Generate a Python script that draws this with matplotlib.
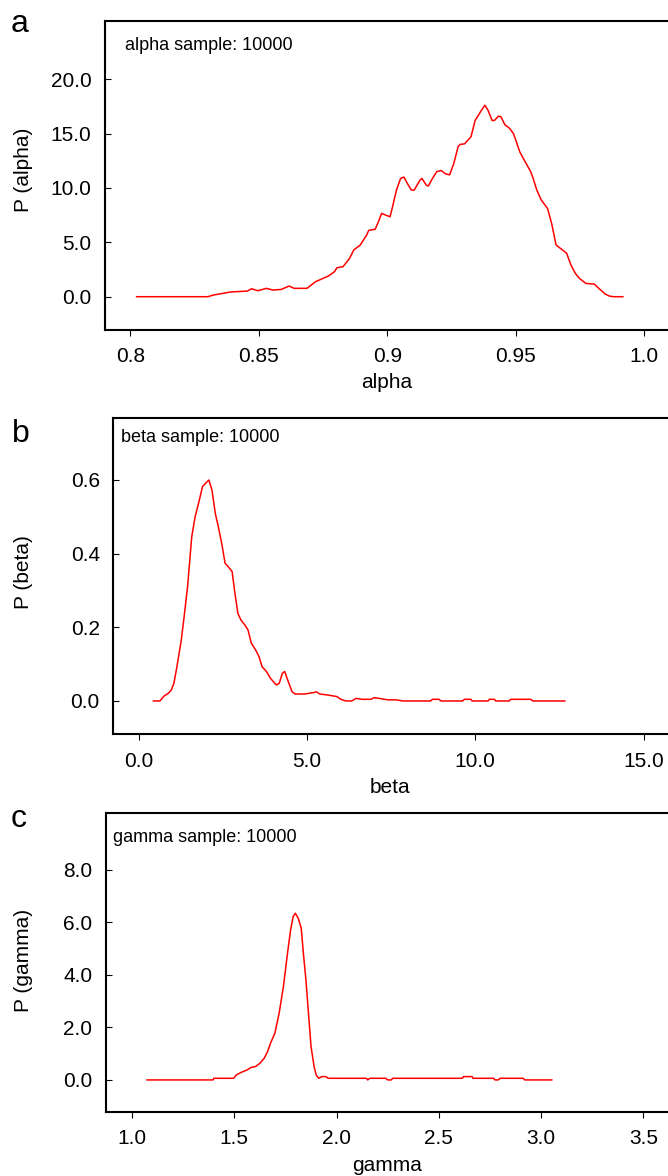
import matplotlib
matplotlib.use("Agg")
import matplotlib.pyplot as plt

plt.rcParams['font.family'] = ['Liberation Sans', 'DejaVu Sans']

# ---------------- data ----------------
alpha_x = [0.8025, 0.8302, 0.8323, 0.8389, 0.8456, 0.8472, 0.8497, 0.8530, 0.8555, 0.8588,
           0.8618, 0.8638, 0.8688, 0.8721, 0.8771, 0.8795, 0.8804, 0.8828, 0.8853, 0.8870,
           0.8895, 0.8920, 0.8928, 0.8953, 0.8966, 0.8978, 0.8994, 0.9011, 0.9019, 0.9036,
           0.9052, 0.9065, 0.9082, 0.9094, 0.9105, 0.9127, 0.9135, 0.9152, 0.9160, 0.9176,
           0.9193, 0.9210, 0.9226, 0.9243, 0.9259, 0.9276, 0.9284, 0.9301, 0.9326, 0.9342,
           0.9367, 0.9380, 0.9392, 0.9408, 0.9417, 0.9433, 0.9442, 0.9458, 0.9475, 0.9491,
           0.9500, 0.9516, 0.9533, 0.9558, 0.9566, 0.9582, 0.9599, 0.9624, 0.9640, 0.9657,
           0.9674, 0.9698, 0.9715, 0.9732, 0.9748, 0.9773, 0.9806, 0.9823, 0.9848, 0.9864,
           0.9881, 0.9917]
alpha_p = [0.0, 0.0, 0.15, 0.43, 0.52, 0.73, 0.55, 0.77, 0.61, 0.67,
           0.98, 0.77, 0.77, 1.38, 1.90, 2.30, 2.66, 2.76, 3.50, 4.30,
           4.75, 5.67, 6.10, 6.20, 6.90, 7.66, 7.50, 7.35, 8.10, 9.80,
           10.87, 11.00, 10.26, 9.80, 9.80, 10.70, 10.87, 10.26, 10.17, 10.87,
           11.50, 11.60, 11.30, 11.20, 12.25, 13.80, 14.00, 14.05, 14.70, 16.20,
           17.15, 17.60, 17.15, 16.20, 16.20, 16.60, 16.55, 15.80, 15.50, 15.00,
           14.40, 13.30, 12.56, 11.50, 11.00, 9.80, 8.90, 8.10, 6.70, 4.75,
           4.44, 4.00, 2.90, 2.14, 1.68, 1.22, 1.16, 0.77, 0.25, 0.06,
           0.0, 0.0]

beta_x = [0.443, 0.633, 0.76, 0.886, 0.975, 1.05, 1.14, 1.27, 1.354, 1.456,
          1.58, 1.68, 1.77, 1.90, 1.99, 2.09, 2.18, 2.28, 2.37, 2.47,
          2.57, 2.66, 2.78, 2.85, 2.95, 3.04, 3.16, 3.25, 3.35, 3.48,
          3.58, 3.67, 3.80, 3.92, 4.09, 4.18, 4.27, 4.34, 4.43, 4.56,
          4.65, 4.94, 5.19, 5.28, 5.38, 5.63, 5.89, 6.01, 6.16, 6.33,
          6.46, 6.65, 6.90, 7.00, 7.15, 7.41, 7.66, 7.85, 8.67, 8.73,
          8.92, 8.99, 9.62, 9.68, 9.87, 9.91, 10.38, 10.42, 10.57, 10.61,
          11.01, 11.05, 11.65, 11.71, 12.66]
beta_p = [0.0, 0.0, 0.0136, 0.021, 0.030, 0.048, 0.093, 0.166, 0.229, 0.310,
          0.446, 0.500, 0.532, 0.582, 0.591, 0.600, 0.573, 0.509, 0.473, 0.428,
          0.374, 0.365, 0.351, 0.301, 0.238, 0.220, 0.206, 0.193, 0.157, 0.138,
          0.120, 0.093, 0.080, 0.0615, 0.0434, 0.048, 0.075, 0.080, 0.057, 0.025,
          0.019, 0.019, 0.0226, 0.025, 0.019, 0.016, 0.012, 0.0045, 0.0, 0.0,
          0.007, 0.0045, 0.0045, 0.009, 0.007, 0.003, 0.003, 0.0, 0.0, 0.0045,
          0.0045, 0.0, 0.0, 0.0045, 0.0045, 0.0, 0.0, 0.0045, 0.0045, 0.0,
          0.0, 0.0045, 0.0045, 0.0, 0.0]

gamma_x = [1.073, 1.396, 1.40, 1.496, 1.51, 1.531, 1.5625, 1.583, 1.604, 1.625,
           1.646, 1.6625, 1.677, 1.698, 1.719, 1.74, 1.76, 1.775, 1.7875, 1.798,
           1.8125, 1.827, 1.8375, 1.85, 1.865, 1.875, 1.89, 1.90, 1.9125, 1.927,
           1.948, 1.958, 2.146, 2.152, 2.1625, 2.24, 2.25, 2.267, 2.275, 2.615,
           2.62, 2.6625, 2.667, 2.767, 2.775, 2.79, 2.80, 2.9125, 2.92, 3.052]
gamma_p = [0.0, 0.0, 0.063, 0.063, 0.19, 0.28, 0.38, 0.48, 0.51, 0.635,
           0.825, 1.08, 1.40, 1.78, 2.54, 3.56, 4.83, 5.71, 6.22, 6.35,
           6.16, 5.78, 4.83, 3.81, 2.29, 1.27, 0.51, 0.19, 0.063, 0.127,
           0.127, 0.063, 0.063, 0.0, 0.063, 0.063, 0.0, 0.0, 0.063, 0.063,
           0.127, 0.127, 0.063, 0.063, 0.0, 0.0, 0.063, 0.063, 0.0, 0.0]

alpha_xticks = [0.8, 0.85, 0.9, 0.95, 1.0]
alpha_xticklabels = ["0.8", "0.85", "0.9", "0.95", "1.0"]
alpha_yticks = [0.0, 5.0, 10.0, 15.0, 20.0]
alpha_yticklabels = ["0.0", "5.0", "10.0", "15.0", "20.0"]

beta_xticks = [0.0, 5.0, 10.0, 15.0]
beta_xticklabels = ["0.0", "5.0", "10.0", "15.0"]
beta_yticks = [0.0, 0.2, 0.4, 0.6]
beta_yticklabels = ["0.0", "0.2", "0.4", "0.6"]

gamma_xticks = [1.0, 1.5, 2.0, 2.5, 3.0, 3.5]
gamma_xticklabels = ["1.0", "1.5", "2.0", "2.5", "3.0", "3.5"]
gamma_yticks = [0.0, 2.0, 4.0, 6.0, 8.0]
gamma_yticklabels = ["0.0", "2.0", "4.0", "6.0", "8.0"]

# ---------------- figure ----------------
W, H = 668, 1176
fig = plt.figure(figsize=(W / 100, H / 100), dpi=100)


def fx(x):
    return x / W


def fy(y):
    return 1 - y / H


def make_axes(left, top, bottom, right=690):
    return fig.add_axes([left / W, 1 - bottom / H, (right - left) / W, (bottom - top) / H])


TICK_FS = 15
LABEL_FS = 15
INSET_FS = 13
LETTER_FS = 23


def style(ax, xlim, ylim, xt, xtl, yt, ytl):
    ax.set_xlim(*xlim)
    ax.set_ylim(*ylim)
    ax.set_xticks(xt)
    ax.set_xticklabels(xtl)
    ax.set_yticks(yt)
    ax.set_yticklabels(ytl)
    for s in ax.spines.values():
        s.set_linewidth(1.5)
        s.set_color('black')
    ax.tick_params(axis='x', direction='out', length=4, width=0.8, pad=8.4,
                   labelsize=TICK_FS, colors='black')
    ax.tick_params(axis='y', direction='in', length=4, width=0.8, pad=9.7,
                   labelsize=TICK_FS, colors='black')


panels = [
    dict(x=alpha_x, p=alpha_p, left=105, top=20.7, bottom=330,
         xlim=(0.7902, 1.0178), ylim=(-3.06, 25.37),
         xt=alpha_xticks, xtl=alpha_xticklabels, yt=alpha_yticks, ytl=alpha_yticklabels,
         letter="a", letter_pos=(11, 32),
         inset="alpha sample: 10000", inset_pos=(125, 50),
         xlabel="alpha", xlabel_pos=(386.5, 388),
         ylabel="P (alpha)", ylabel_pos=(23.5, 170)),
    dict(x=beta_x, p=beta_p, left=113.3, top=418.3, bottom=734.3,
         xlim=(-0.75, 16.38), ylim=(-0.0905, 0.7675),
         xt=beta_xticks, xtl=beta_xticklabels, yt=beta_yticks, ytl=beta_yticklabels,
         letter="b", letter_pos=(12, 442),
         inset="beta sample: 10000", inset_pos=(121, 442),
         xlabel="beta", xlabel_pos=(390, 793),
         ylabel="P (beta)", ylabel_pos=(23.5, 572)),
    dict(x=gamma_x, p=gamma_p, left=105.7, top=812.7, bottom=1111.7,
         xlim=(0.871, 3.728), ylim=(-1.21, 10.18),
         xt=gamma_xticks, xtl=gamma_xticklabels, yt=gamma_yticks, ytl=gamma_yticklabels,
         letter="c", letter_pos=(11, 827),
         inset="gamma sample: 10000", inset_pos=(113, 842),
         xlabel="gamma", xlabel_pos=(387, 1171),
         ylabel="P (gamma)", ylabel_pos=(23.5, 960)),
]

for pn in panels:
    ax = make_axes(pn['left'], pn['top'], pn['bottom'])
    ax.plot(pn['x'], pn['p'], color='#ff0000', linewidth=1.1)
    style(ax, pn['xlim'], pn['ylim'], pn['xt'], pn['xtl'], pn['yt'], pn['ytl'])
    fig.text(fx(pn['letter_pos'][0]), fy(pn['letter_pos'][1]), pn['letter'],
             fontsize=LETTER_FS, ha='left', va='baseline')
    fig.text(fx(pn['inset_pos'][0]), fy(pn['inset_pos'][1]), pn['inset'],
             fontsize=INSET_FS, ha='left', va='baseline')
    fig.text(fx(pn['xlabel_pos'][0]), fy(pn['xlabel_pos'][1]), pn['xlabel'],
             fontsize=LABEL_FS, ha='center', va='baseline')
    fig.text(fx(pn['ylabel_pos'][0]), fy(pn['ylabel_pos'][1]), pn['ylabel'],
             fontsize=LABEL_FS, ha='center', va='center', rotation=90)

fig.savefig("out.png", dpi=100)
